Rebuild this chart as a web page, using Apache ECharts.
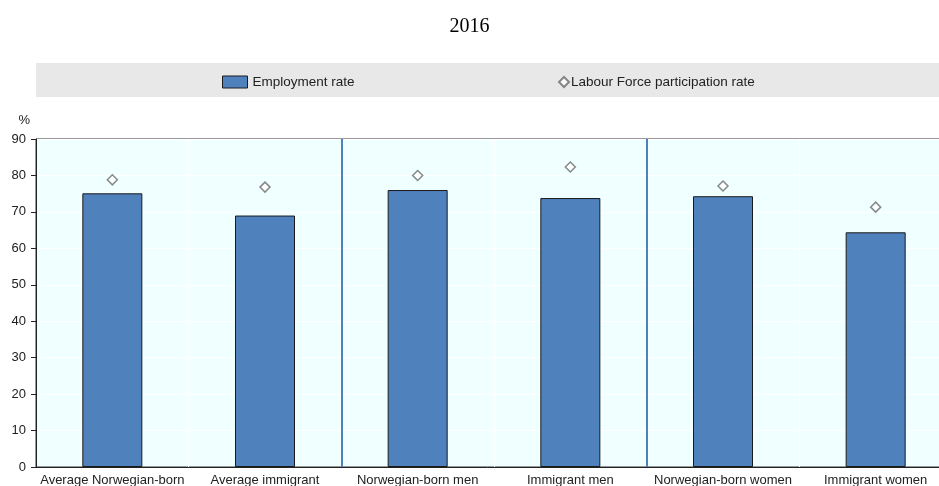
<!DOCTYPE html>
<html>
<head>
<meta charset="utf-8">
<script src="https://cdn.jsdelivr.net/npm/echarts@6/dist/echarts.min.js"></script>
<style>
  html, body { margin: 0; padding: 0; background: #fff; }
  #main { width: 939px; height: 486px; }
</style>
</head>
<body>
<div id="main"></div>
<script>
var categories = ['Average Norwegian-born', 'Average immigrant', 'Norwegian-born men', 'Immigrant men', 'Norwegian-born women', 'Immigrant women'];
var employment = [75.1, 69.0, 76.0, 73.8, 74.3, 64.4];
var participation = [78.8, 76.8, 80.0, 82.3, 77.1, 71.3];
var yTicks = [0, 90, 10];   // min, max, step

function drawChart () {
    var myChart = echarts.init(document.getElementById('main'));

    var option = {
      animation: false,
      title: {
        text: '2016',
        left: 'center',
        top: 12,
        textStyle: {
          fontFamily: 'Liberation Serif',
          fontSize: 20,
          fontWeight: 'normal',
          color: '#000'
        }
      },
      graphic: [
        {
          type: 'rect',
          left: 36,
          top: 63,
          shape: { width: 903, height: 34 },
          style: { fill: '#e8e8e8' },
          z: -1
        }
      ],
      legend: [
        {
          data: [{ name: 'Employment rate', icon: 'rect' }],
          left: 217,
          top: 70,
          itemWidth: 25,
          itemHeight: 12,
          itemStyle: { borderWidth: 1, borderColor: '#1a1a1a' },
          textStyle: { fontFamily: 'Liberation Sans', fontSize: 13.5, color: '#222' }
        },
        {
          data: ['Labour Force participation rate'],
          left: 553,
          top: 70,
          itemWidth: 10,
          itemHeight: 10,
          textStyle: { fontFamily: 'Liberation Sans', fontSize: 13.5, color: '#222', padding: [0, 0, 0, -3] }
        }
      ],
      grid: {
        left: 36,
        top: 139,
        bottom: 19,
        width: 916,
        outerBoundsMode: 'none',
        show: true,
        backgroundColor: '#f0ffff',
        borderColor: '#333',
        borderWidth: 1
      },
      xAxis: [
        {
          type: 'category',
          data: categories,
          axisLine: { lineStyle: { color: '#222', width: 1 } },
          axisTick: { inside: true, length: 4, lineStyle: { color: '#222' } },
          axisLabel: {
            interval: 0,
            margin: 7,
            fontFamily: 'Liberation Sans',
            fontSize: 13,
            color: '#222'
          },
          splitLine: { show: true, interval: 0, lineStyle: { color: '#ffffff', width: 1 } }
        },
        {
          type: 'value',
          min: 0,
          max: 6,
          interval: 2,
          show: true,
          position: 'bottom',
          axisLine: { show: false },
          axisTick: { show: false },
          axisLabel: { show: false },
          splitLine: {
            show: true,
            showMinLine: false,
            showMaxLine: false,
            lineStyle: { color: '#4f81bd', width: 2 }
          }
        }
      ],
      yAxis: {
        type: 'value',
        min: yTicks[0],
        max: yTicks[1],
        interval: yTicks[2],
        name: '%',
        nameLocation: 'end',
        nameGap: 12,
        nameTextStyle: { fontFamily: 'Liberation Sans', fontSize: 13, color: '#222', align: 'right', padding: [0, 6, 0, 0] },
        axisLine: { show: true, lineStyle: { color: '#222', width: 1 } },
        axisTick: { show: true, length: 5, lineStyle: { color: '#222' } },
        axisLabel: {
          margin: 10,
          fontFamily: 'Liberation Sans',
          fontSize: 13,
          color: '#222'
        },
        splitLine: { show: true, lineStyle: { color: '#ffffff', width: 1 } }
      },
      series: [
        {
          name: 'Employment rate',
          type: 'bar',
          xAxisIndex: 0,
          data: employment,
          barWidth: 60,
          itemStyle: { color: '#4f81bd', borderColor: '#1a1a1a', borderWidth: 1 },
          z: 3
        },
        {
          name: 'Labour Force participation rate',
          type: 'scatter',
          xAxisIndex: 0,
          data: participation,
          symbol: 'diamond',
          symbolSize: 10,
          itemStyle: { color: '#ffffff', borderColor: '#6b6b6b', borderWidth: 1.5 },
          z: 4
        }
      ]
    };

    myChart.setOption(option);
}

drawChart();
</script>
</body>
</html>
